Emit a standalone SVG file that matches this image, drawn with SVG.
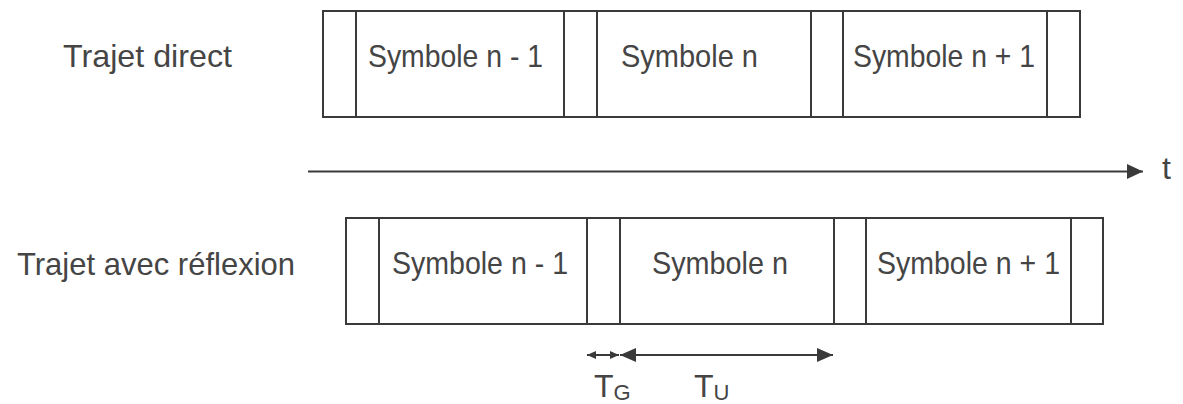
<svg xmlns="http://www.w3.org/2000/svg" width="1183" height="404" viewBox="0 0 1183 404">
<style>
  .box { fill: none; stroke: #3a3a3a; stroke-width: 2; }
  .div { stroke: #3a3a3a; stroke-width: 2; }
  .lbl { font-family: "Liberation Sans", Arial, sans-serif; font-size: 32px; fill: #454545; }
  .sym { font-family: "Liberation Sans", Arial, sans-serif; font-size: 32px; fill: #454545; }
  .sub { font-family: "Liberation Sans", Arial, sans-serif; font-size: 22px; fill: #454545; }
  .ln { stroke: #3a3a3a; stroke-width: 2; fill: none; }
</style>
<defs>
  <marker id="bigEnd" markerUnits="userSpaceOnUse" markerWidth="18" markerHeight="16" refX="16" refY="8" orient="auto">
    <path d="M0,0.5 L16,8 L0,15.5 Z" fill="#3a3a3a"/>
  </marker>
  <marker id="midEnd" markerUnits="userSpaceOnUse" markerWidth="18" markerHeight="16" refX="16" refY="7" orient="auto-start-reverse">
    <path d="M0,0 L16,7 L0,14 Z" fill="#3a3a3a"/>
  </marker>
  <marker id="smallEnd" markerUnits="userSpaceOnUse" markerWidth="10" markerHeight="8" refX="9" refY="4" orient="auto-start-reverse">
    <path d="M0,0 L9,4 L0,8 Z" fill="#3a3a3a"/>
  </marker>
</defs>

<g id="label-direct"><text class="lbl" x="63" y="67" textLength="169" lengthAdjust="spacingAndGlyphs">Trajet direct</text></g>
<g id="label-reflexion"><text class="lbl" x="17" y="275" textLength="278" lengthAdjust="spacingAndGlyphs">Trajet avec réflexion</text></g>

<g id="row-direct">
  <rect class="box" x="323" y="11" width="757" height="106"/>
  <line class="div" x1="356" y1="11" x2="356" y2="117"/>
  <line class="div" x1="564" y1="11" x2="564" y2="117"/>
  <line class="div" x1="597" y1="11" x2="597" y2="117"/>
  <line class="div" x1="811" y1="11" x2="811" y2="117"/>
  <line class="div" x1="843" y1="11" x2="843" y2="117"/>
  <line class="div" x1="1047" y1="11" x2="1047" y2="117"/>
  <g id="d-sym-prev"><text class="sym" x="368" y="67" textLength="175" lengthAdjust="spacingAndGlyphs">Symbole n - 1</text></g>
  <g id="d-sym-n"><text class="sym" x="621" y="67" textLength="137" lengthAdjust="spacingAndGlyphs">Symbole n</text></g>
  <g id="d-sym-next"><text class="sym" x="853" y="67" textLength="182" lengthAdjust="spacingAndGlyphs">Symbole n + 1</text></g>
</g>

<g id="row-reflexion">
  <rect class="box" x="346" y="218" width="757" height="106"/>
  <line class="div" x1="379" y1="218" x2="379" y2="324"/>
  <line class="div" x1="587" y1="218" x2="587" y2="324"/>
  <line class="div" x1="620" y1="218" x2="620" y2="324"/>
  <line class="div" x1="834" y1="218" x2="834" y2="324"/>
  <line class="div" x1="866" y1="218" x2="866" y2="324"/>
  <line class="div" x1="1071" y1="218" x2="1071" y2="324"/>
  <g id="r-sym-prev"><text class="sym" x="392" y="274" textLength="176" lengthAdjust="spacingAndGlyphs">Symbole n - 1</text></g>
  <g id="r-sym-n"><text class="sym" x="652" y="274" textLength="136" lengthAdjust="spacingAndGlyphs">Symbole n</text></g>
  <g id="r-sym-next"><text class="sym" x="877" y="274" textLength="183" lengthAdjust="spacingAndGlyphs">Symbole n + 1</text></g>
</g>

<g id="connectors">
  <line class="ln" x1="308" y1="171.5" x2="1143" y2="171.5" marker-end="url(#bigEnd)"/>
  <line class="ln" x1="587" y1="355" x2="619" y2="355" marker-start="url(#smallEnd)" marker-end="url(#smallEnd)"/>
  <line class="ln" x1="620" y1="355" x2="833" y2="355" marker-start="url(#midEnd)" marker-end="url(#midEnd)"/>
</g>

<g id="label-t"><text class="lbl" x="1162" y="179">t</text></g>
<g id="label-TG"><text class="lbl" x="594" y="397">T<tspan class="sub" dy="3">G</tspan></text></g>
<g id="label-TU"><text class="lbl" x="694" y="397">T<tspan class="sub" dy="3">U</tspan></text></g>
</svg>
